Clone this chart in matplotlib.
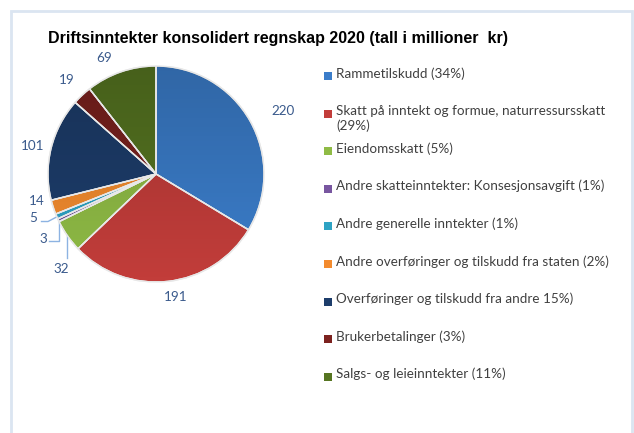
import numpy as np
import matplotlib.pyplot as plt
from matplotlib.patches import Rectangle, Circle, Wedge

# data
categories = ["Rammetilskudd (34%)",
              "Skatt på inntekt og formue, naturressursskatt\n(29%)",
              "Eiendomsskatt (5%)",
              "Andre skatteinntekter: Konsesjonsavgift (1%)",
              "Andre generelle inntekter (1%)",
              "Andre overføringer og tilskudd fra staten (2%)",
              "Overføringer og tilskudd fra andre 15%)",
              "Brukerbetalinger (3%)",
              "Salgs- og leieinntekter (11%)"]
values = [220, 191, 32, 3, 5, 14, 101, 19, 69]
colors = ["#3b7dca", "#c23d3a", "#8fbb45", "#7856a0", "#2ea3c4",
          "#f38b2e", "#1d3d6b", "#7c221f", "#567521"]

W, H = 634, 433
fig = plt.figure(figsize=(W / 100, H / 100), dpi=100)

# light frame
fig.patches.append(Rectangle((11 / W, -0.05), 621 / W, (H - 11) / H + 0.05,
                             transform=fig.transFigure, fill=False,
                             edgecolor="#dbe5f1", linewidth=2))

fig.text(48 / W, 1 - 38 / H, "Driftsinntekter konsolidert regnskap 2020 (tall i millioner  kr)",
         fontfamily="Liberation Sans", fontweight="bold", fontsize=11.5,
         va="center", ha="left", color="#000000")

cx, cy, R = 156, 174, 108
ax = fig.add_axes([(cx - R) / W, (H - cy - R) / H, 2 * R / W, 2 * R / H])
wedges, _ = ax.pie(values, colors=colors, startangle=90, counterclock=False,
                   wedgeprops=dict(edgecolor="#e8e8e8", linewidth=1.0))
ax.set_xlim(-1, 1)
ax.set_ylim(-1, 1)
ax.set_aspect("equal")
ax.axis("off")

# subtle vertical shading like the original
grad = np.linspace(0, 1, 256).reshape(-1, 1)
shade = np.zeros((256, 1, 4))
shade[..., 3] = 0.18 * grad[::-1]
img = ax.imshow(shade, extent=(-1, 1, -1, 1), origin="upper", aspect="auto", zorder=3)
img.set_clip_path(Circle((0, 0), 1.0, transform=ax.transData))
for w in wedges:
    w.set_zorder(2)
    ax.add_patch(Wedge(w.center, w.r, w.theta1, w.theta2, facecolor="none",
                       edgecolor="#e8e8e8", linewidth=1.0, zorder=4))

lbl_color = "#3a5a8c"
lbl_font = dict(fontfamily="Lato", fontsize=9.7, color=lbl_color)
# radial distance and angle nudge (deg) per label; None = placed with leader
dist = [(1.31, -3), (1.15, 3), None, None, None, None, (1.17, 1), (1.2, 0.5), (1.18, 5)]
mids = [np.deg2rad((w.theta1 + w.theta2) / 2) for w in wedges]
for i, v in enumerate(values):
    if dist[i] is None:
        continue
    r, da = dist[i]
    a = mids[i] + np.deg2rad(da)
    ax.text(r * np.cos(a), r * np.sin(a), str(v), ha="center",
            va="center", clip_on=False, **lbl_font)

# small slices, labels pushed aside with leader lines
lead = "#8db3e2"
pts = [(np.cos(m), np.sin(m)) for m in mids]
ax.text(-1.10, -0.25, str(values[5]), ha="center", va="center", clip_on=False, **lbl_font)
# 32
ax.text(-0.88, -0.88, str(values[2]), ha="center", va="center", clip_on=False, **lbl_font)
ax.plot([-0.82, -0.82], [pts[2][1] * 0.99, -0.78], color=lead, lw=1.0, clip_on=False)
# 3
ax.text(-1.04, -0.60, str(values[3]), ha="center", va="center", clip_on=False, **lbl_font)
ax.plot([-0.99, pts[3][0] * 0.99, pts[3][0] * 0.99], [-0.62, -0.62, pts[3][1]],
        color=lead, lw=1.0, clip_on=False)
# 5
ax.text(-1.14, -0.41, str(values[4]), ha="center", va="center", clip_on=False, **lbl_font)
ax.plot([-1.06, -1.0, pts[4][0] * 0.99], [-0.44, -0.44, pts[4][1]],
        color=lead, lw=1.0, clip_on=False)

# legend
y0, step = 76, 37.6
for i, (lab, c) in enumerate(zip(categories, colors)):
    y = y0 + i * step
    fig.patches.append(Rectangle((324 / W, 1 - (y + 4) / H), 8 / W, 8 / H,
                                 transform=fig.transFigure, facecolor=c,
                                 edgecolor="none"))
    fig.text(336 / W, 1 - (y - 9) / H, lab, fontfamily="Lato", fontsize=9.7,
             color="#404040", ha="left", va="top", linespacing=1.25)

fig.savefig("out.png", dpi=100)
